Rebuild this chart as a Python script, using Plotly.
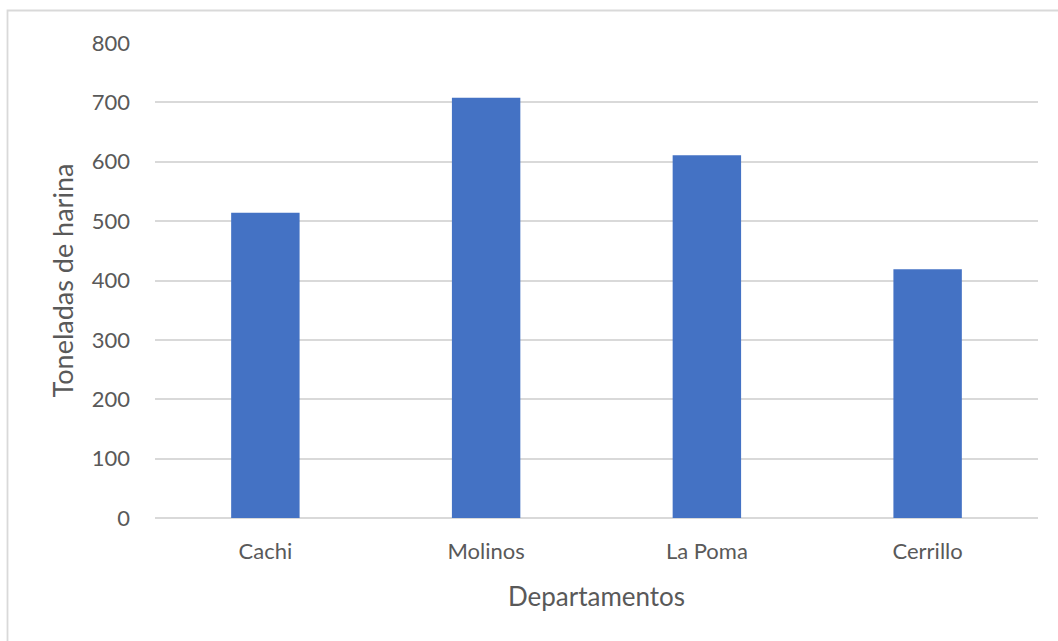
import plotly.graph_objects as go

# Toneladas de harina por departamento
departamentos = ["Cachi", "Molinos", "La Poma", "Cerrillo"]
toneladas = [514, 708, 611, 419]
y_ticks = [0, 100, 200, 300, 400, 500, 600, 700, 800]

W, H = 1058, 641
L, R, T, B = 155, 20, 43, 123

text_color = "#595959"
grid_color = "#d9d9d9"
font_family = "Lato, 'Open Sans', sans-serif"

fig = go.Figure(
    go.Bar(
        x=departamentos,
        y=toneladas,
        marker=dict(color="#4472C4", line=dict(width=0)),
        width=0.31,
    )
)

pw = W - L - R
ph = H - T - B


def px_to_paper_x(px):
    return (px - L) / pw


def px_to_paper_y(py):
    return (H - B - py) / ph


# chart frame: left and top edges
fig.add_shape(
    type="path",
    xref="paper",
    yref="paper",
    path=(
        f"M {px_to_paper_x(7.5)},{px_to_paper_y(660)} "
        f"L {px_to_paper_x(7.5)},{px_to_paper_y(10.5)} "
        f"L {px_to_paper_x(1070)},{px_to_paper_y(10.5)}"
    ),
    line=dict(color=grid_color, width=1.8),
)

fig.update_layout(
    width=W,
    height=H,
    margin=dict(l=L, r=R, t=T, b=B, autoexpand=False),
    paper_bgcolor="white",
    plot_bgcolor="white",
    showlegend=False,
    font=dict(family=font_family, color=text_color, size=22),
    xaxis=dict(
        title=dict(text="Departamentos", font=dict(size=26, color=text_color), standoff=24),
        showgrid=False,
        showline=False,
        zeroline=False,
        ticks="",
        ticklabelstandoff=18,
        tickfont=dict(size=22, color=text_color),
        automargin=False,
    ),
    yaxis=dict(
        title=dict(text="Toneladas de harina", font=dict(size=27, color=text_color), standoff=10),
        range=[0, 800],
        tickvals=y_ticks,
        showgrid=True,
        gridcolor=grid_color,
        gridwidth=1.5,
        zeroline=True,
        zerolinecolor=grid_color,
        zerolinewidth=1.5,
        showline=False,
        ticks="",
        ticklabelstandoff=24,
        tickfont=dict(size=22, color=text_color),
        automargin=False,
    ),
)

fig.write_html("out.html")
